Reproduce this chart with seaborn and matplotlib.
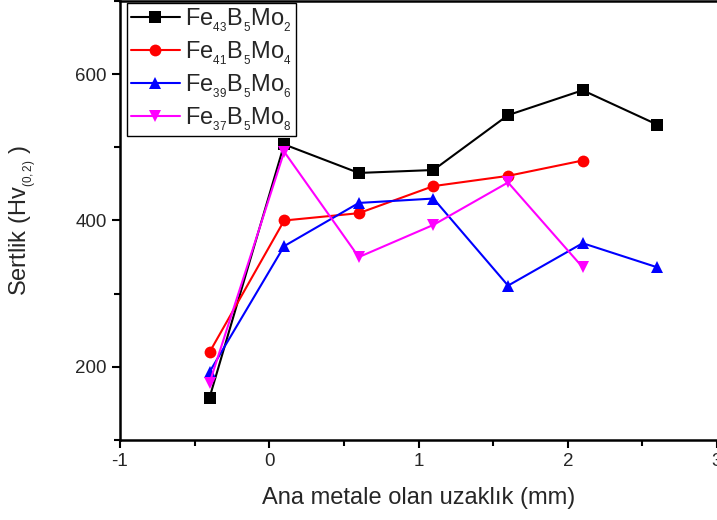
import matplotlib
matplotlib.use("Agg")
import matplotlib.pyplot as plt
import seaborn as sns
import pandas as pd
from matplotlib.ticker import MultipleLocator

distance = [-0.4, 0.1, 0.6, 1.1, 1.6, 2.1, 2.6]
fe43 = [158, 504, 465, 469, 544, 578, 531]
fe41 = [220, 400, 410, 447, 461, 482]
fe39 = [193, 365, 424, 430, 311, 369, 336]
fe37 = [178, 494, 350, 394, 452, 336]

labels = [r"Fe$_{_{43}}$B$_{_5}$Mo$_{_2}$", r"Fe$_{_{41}}$B$_{_5}$Mo$_{_4}$",
          r"Fe$_{_{39}}$B$_{_5}$Mo$_{_6}$", r"Fe$_{_{37}}$B$_{_5}$Mo$_{_8}$"]
series = [fe43, fe41, fe39, fe37]
colors = ["#000000", "#ff0000", "#0000ff", "#ff00ff"]
markers = ["s", "o", "^", "v"]

sns.set_style("ticks")
plt.rcParams["font.family"] = ["Liberation Sans", "DejaVu Sans"]
plt.rcParams["mathtext.fontset"] = "custom"
plt.rcParams["mathtext.rm"] = "Liberation Sans"
plt.rcParams["mathtext.it"] = "Liberation Sans"
plt.rcParams["mathtext.default"] = "regular"
plt.rcParams["axes.unicode_minus"] = False

rows = []
for lab, vals in zip(labels, series):
    for x, y in zip(distance, vals):
        rows.append({"x": x, "y": y, "s": lab})
df = pd.DataFrame(rows)

fig = plt.figure(figsize=(7.17, 5.2), dpi=100)
ax = fig.add_axes([120 / 717, 80 / 520, 597 / 717, 439 / 520])

sns.lineplot(data=df, x="x", y="y", hue="s", style="s",
             palette=dict(zip(labels, colors)),
             markers=dict(zip(labels, markers)),
             dashes=False, markersize=8.5, linewidth=1.5,
             markeredgewidth=0, ax=ax, legend=True)

ax.set_xlim(-1, 3)
ax.set_ylim(100, 700)
ax.xaxis.set_major_locator(MultipleLocator(1))
ax.xaxis.set_minor_locator(MultipleLocator(0.5))
ax.yaxis.set_major_locator(MultipleLocator(200))
ax.yaxis.set_minor_locator(MultipleLocator(100))
ax.tick_params(which="major", direction="out", length=6, width=1.5, labelsize=13.5, color="black")
ax.tick_params(which="minor", direction="out", length=4, width=1.5, color="black")
for side in ["left", "bottom", "top"]:
    ax.spines[side].set_linewidth(1.8)
    ax.spines[side].set_color("black")
ax.spines["right"].set_visible(False)

ax.set_xlabel("Ana metale olan uzaklık (mm)", fontsize=17, labelpad=12)
ax.set_ylabel(r"Sertlik (Hv$_{_{(0,2)}}$ )", fontsize=17, labelpad=26)

leg = ax.legend(loc="upper left", bbox_to_anchor=(0.012, 0.995), fontsize=17,
                frameon=True, fancybox=False, edgecolor="black", framealpha=1.0,
                handlelength=2.1, handletextpad=0.2, borderpad=0.15,
                labelspacing=0.22, borderaxespad=0.0)
leg.get_frame().set_linewidth(1.0)

fig.savefig("out.png", dpi=100)
